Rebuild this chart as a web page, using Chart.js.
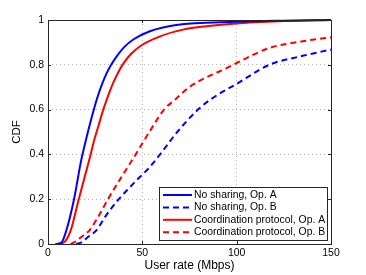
<!DOCTYPE html>
<html>
<head>
<meta charset="utf-8">
<script src="https://cdn.jsdelivr.net/npm/chart.js@4.4.0/dist/chart.umd.min.js"></script>
<style>
  body { margin: 0; background: #fff; }
  canvas { display: block; }
</style>
</head>
<body>
<canvas id="myChart" width="366" height="275"></canvas>
<script>
// values (user rate in Mbps vs CDF)
var rateNoShareA = [4, 7, 9.7, 13.8, 17.5, 20.1, 23, 25.8, 28.5, 31.1, 33.7, 36.4, 40.5, 45.2, 54, 68, 100, 125, 150];
var cdfNoShareA = [0, 0.005, 0.06, 0.2, 0.37, 0.464, 0.56, 0.644, 0.71, 0.763, 0.803, 0.838, 0.88, 0.913, 0.95, 0.978, 0.992, 0.997, 1];

var rateNoShareB = [15, 18, 21, 25.6, 31, 37.5, 43, 48.8, 53, 59.4, 68.5, 79.5, 87, 100, 117.3, 135, 150];
var cdfNoShareB = [0, 0.008, 0.03, 0.061, 0.13, 0.2, 0.25, 0.3, 0.335, 0.4, 0.5, 0.6, 0.65, 0.715, 0.8, 0.84, 0.868];

var rateCoordA = [4, 8, 12, 16.3, 22.6, 24.5, 27, 29.3, 32, 34.6, 37.2, 39.9, 44, 48.8, 59.4, 71.6, 84, 101.8, 125, 150];
var cdfCoordA = [0, 0.005, 0.06, 0.2, 0.4, 0.464, 0.535, 0.6, 0.665, 0.72, 0.766, 0.805, 0.848, 0.883, 0.927, 0.957, 0.972, 0.985, 0.995, 1];

var rateCoordB = [12, 14, 17.5, 22, 26.5, 31.8, 39, 46.5, 53.7, 61.5, 67.3, 75.3, 85, 94.7, 100, 117.3, 135, 150];
var cdfCoordB = [0, 0.008, 0.03, 0.061, 0.12, 0.2, 0.3, 0.4, 0.5, 0.6, 0.644, 0.703, 0.748, 0.785, 0.808, 0.875, 0.905, 0.923];

var xTicks = [0, 50, 100, 150];
var yTicks = [0, 0.2, 0.4, 0.6, 0.8, 1];

var FONT = "'Liberation Sans', Arial, Helvetica, sans-serif";

function pts(xs, ys) {
  return xs.map(function (x, i) { return { x: x, y: ys[i] }; });
}

function series(label, xs, ys, color, dashed) {
  return {
    label: label,
    data: pts(xs, ys),
    borderColor: color,
    borderWidth: 2,
    borderDash: dashed ? [6, 4] : [],
    pointRadius: 0,
    fill: false,
    cubicInterpolationMode: "monotone",
    clip: false
  };
}

// box, inward ticks and legend in the MATLAB style
var matlabBox = {
  id: "matlabBox",
  afterDraw: function (chart) {
    var ctx = chart.ctx, a = chart.chartArea;
    var xs = chart.scales.x, ys = chart.scales.y;
    ctx.save();
    ctx.strokeStyle = "#262626";
    ctx.lineWidth = 1;
    ctx.strokeRect(Math.round(a.left) + 0.5, Math.round(a.top) + 0.5,
      Math.round(a.right - a.left), Math.round(a.bottom - a.top));
    ctx.beginPath();
    xTicks.forEach(function (v) {
      var px = Math.round(xs.getPixelForValue(v)) + 0.5;
      ctx.moveTo(px, a.bottom); ctx.lineTo(px, a.bottom - 3);
      ctx.moveTo(px, a.top); ctx.lineTo(px, a.top + 3);
    });
    yTicks.forEach(function (v) {
      var py = Math.round(ys.getPixelForValue(v)) + 0.5;
      ctx.moveTo(a.left, py); ctx.lineTo(a.left + 3, py);
      ctx.moveTo(a.right, py); ctx.lineTo(a.right - 3, py);
    });
    ctx.stroke();

    // legend
    var ds = chart.data.datasets;
    ctx.font = "10.4px " + FONT;
    var maxW = 0;
    ds.forEach(function (d) { maxW = Math.max(maxW, ctx.measureText(d.label).width); });
    var rowH = 12.4;
    var w = Math.round(maxW + 37), h = Math.round(ds.length * rowH + 3);
    var bx = Math.round(a.right) - 4 - w, by = Math.round(a.bottom) - 4 - h;
    ctx.fillStyle = "#fff";
    ctx.fillRect(bx, by, w, h);
    ctx.strokeStyle = "#262626";
    ctx.strokeRect(bx + 0.5, by + 0.5, w, h);
    ds.forEach(function (d, i) {
      var cy = by + 8 + i * rowH;
      ctx.beginPath();
      ctx.strokeStyle = d.borderColor;
      ctx.lineWidth = 2;
      ctx.setLineDash(d.borderDash);
      ctx.moveTo(bx + 4, cy);
      ctx.lineTo(bx + 33, cy);
      ctx.stroke();
      ctx.setLineDash([]);
      ctx.fillStyle = "#000";
      ctx.textBaseline = "middle";
      ctx.textAlign = "left";
      ctx.fillText(d.label, bx + 35, cy);
    });
    ctx.restore();
  }
};

function plainLabel(v) { return String(v); }

var ctx = document.getElementById("myChart").getContext("2d");
var myChart = new Chart(ctx, {
  type: "line",
  data: {
    datasets: [
      series("No sharing, Op. A", rateNoShareA, cdfNoShareA, "#0000ff", false),
      series("No sharing, Op. B", rateNoShareB, cdfNoShareB, "#0000ff", true),
      series("Coordination protocol, Op. A", rateCoordA, cdfCoordA, "#ff0000", false),
      series("Coordination protocol, Op. B", rateCoordB, cdfCoordB, "#ff0000", true)
    ]
  },
  options: {
    responsive: false,
    animation: false,
    layout: { padding: { top: 20, right: 35, left: 0, bottom: 0 } },
    plugins: {
      legend: { display: false },
      tooltip: { enabled: false }
    },
    scales: {
      x: {
        type: "linear",
        min: 0,
        max: 150,
        afterBuildTicks: function (s) { s.ticks = xTicks.map(function (v) { return { value: v }; }); },
        afterFit: function (s) { s.height = 31; },
        grid: { color: "#b4b4b4", lineWidth: 1, drawTicks: false },
        border: { display: false, dash: [1, 3] },
        ticks: { color: "#000", padding: 3, maxRotation: 0, callback: plainLabel, font: { family: FONT, size: 10.5 } },
        title: { display: true, text: "User rate (Mbps)", color: "#000", padding: { top: 0, bottom: 2 }, font: { family: FONT, size: 12 } }
      },
      y: {
        min: 0,
        max: 1,
        afterBuildTicks: function (s) { s.ticks = yTicks.map(function (v) { return { value: v }; }); },
        afterFit: function (s) { s.width = 48; },
        grid: { color: "#b4b4b4", lineWidth: 1, drawTicks: false },
        border: { display: false, dash: [1, 3] },
        ticks: { color: "#000", padding: 4, callback: plainLabel, font: { family: FONT, size: 10.5 } },
        title: { display: true, text: "CDF", color: "#000", padding: { top: 10, bottom: 10 }, font: { family: FONT, size: 11.5 } }
      }
    }
  },
  plugins: [matlabBox]
});
</script>
</body>
</html>
